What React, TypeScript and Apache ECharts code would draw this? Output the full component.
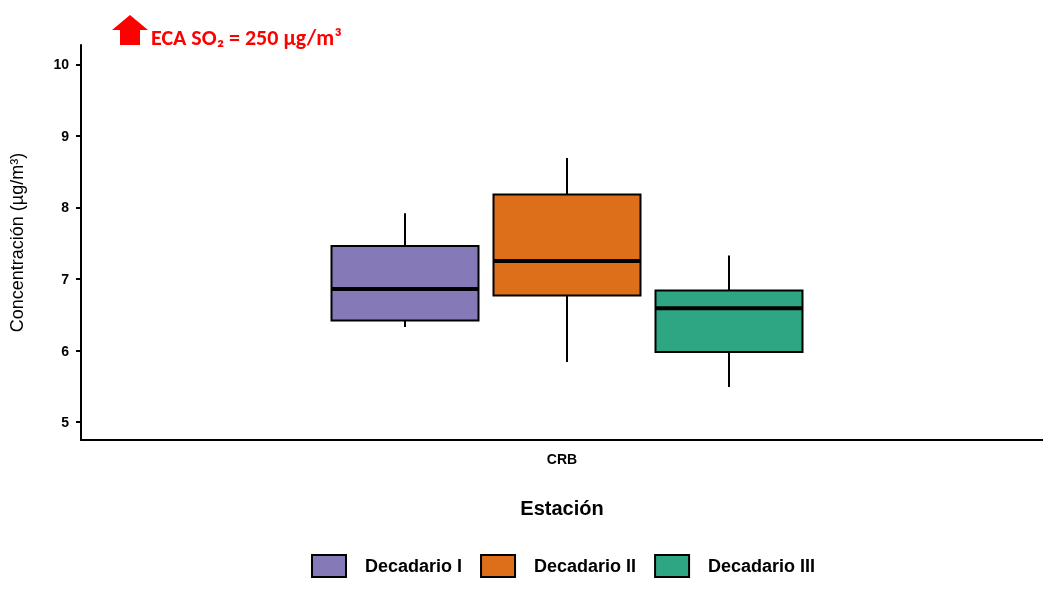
import { useEffect, useRef } from "react";
import * as echarts from "echarts";

const STATION = ["CRB"];
const SERIES_NAMES = ["Decadario I", "Decadario II", "Decadario III"];
const COLORS = ["#8579b8", "#de6f1a", "#2fa683"];
// min, Q1, median, Q3, max
const BOXES = [
  [6.33, 6.42, 6.86, 7.46, 7.92],
  [5.84, 6.77, 7.25, 8.18, 8.69],
  [5.49, 5.98, 6.59, 6.84, 7.33],
];
const Y_TICKS = [5, 6, 7, 8, 9, 10];
const SLOTS = ["a", "b", "c"];
const BOX_W = 147;

export default function App() {
  const ref = useRef<HTMLDivElement>(null);

  useEffect(() => {
    if (!ref.current) return;
    const chart = echarts.init(ref.current, null, { renderer: "svg" });
    const yBase = { type: "value", min: 4.75, max: 10.27 };
    chart.setOption({
      animation: false,
      textStyle: { fontFamily: "Liberation Sans, Arial, sans-serif" },
      grid: [
        { left: 80, right: 0, top: 45, bottom: 149 },
        { left: 324, width: 486, top: 45, bottom: 149 },
      ],
      xAxis: [
        {
          type: "category",
          gridIndex: 0,
          data: STATION,
          axisLine: { lineStyle: { color: "#000", width: 2 } },
          axisTick: { show: false },
          axisLabel: { color: "#000", fontWeight: "bold", fontSize: 14, margin: 12 },
          name: "Estación",
          nameLocation: "middle",
          nameGap: 58,
          nameTextStyle: { color: "#000", fontWeight: "bold", fontSize: 20 },
        },
        { type: "category", gridIndex: 1, data: SLOTS, show: false },
      ],
      yAxis: [
        {
          ...yBase,
          gridIndex: 0,
          splitLine: { show: false },
          axisLine: { show: true, lineStyle: { color: "#000", width: 2 } },
          axisTick: { show: true, customValues: Y_TICKS, length: 5, lineStyle: { color: "#000", width: 2 } },
          axisLabel: { customValues: Y_TICKS, color: "#000", fontWeight: "bold", fontSize: 14, margin: 12 },
          name: "Concentración (µg/m³)",
          nameLocation: "middle",
          nameGap: 55,
          nameTextStyle: { color: "#000", fontSize: 18 },
        },
        { ...yBase, gridIndex: 1, show: false },
      ],
      legend: {
        bottom: 6,
        left: 306,
        itemGap: 18,
        itemWidth: 34,
        itemHeight: 22,
        icon: "rect",
        itemStyle: { borderColor: "#000", borderWidth: 2 },
        textStyle: { color: "#000", fontWeight: "bold", fontSize: 18, padding: [0, 0, 0, 14] },
        data: SERIES_NAMES,
      },
      graphic: [
        { type: "polygon", shape: { points: [[112, 30], [130, 15], [148, 30], [140, 30], [140, 45], [120, 45], [120, 30]] }, style: { fill: "#ff0000" } },
        { type: "text", x: 151, y: 26, style: { text: "ECA SO₂ = 250 µg/m³", fill: "#ff0000", font: "bold 22px Calibri, Carlito, Liberation Sans, sans-serif" } },
      ],
      series: SERIES_NAMES.map((name, i) => ({
        type: "custom",
        name,
        xAxisIndex: 1,
        yAxisIndex: 1,
        itemStyle: { color: COLORS[i] },
        data: [[i, ...BOXES[i]]],
        encode: { x: 0, y: [1, 2, 3, 4, 5] },
        renderItem: (params: any, api: any) => {
          const x = api.value(0);
          const [cx, yMin] = api.coord([x, api.value(1)]);
          const yQ1 = api.coord([x, api.value(2)])[1];
          const yMed = api.coord([x, api.value(3)])[1];
          const yQ3 = api.coord([x, api.value(4)])[1];
          const yMax = api.coord([x, api.value(5)])[1];
          const l = cx - BOX_W / 2;
          const line = { stroke: "#000", lineWidth: 2 };
          return {
            type: "group",
            children: [
              { type: "line", shape: { x1: cx, y1: yMax, x2: cx, y2: yQ3 }, style: line },
              { type: "line", shape: { x1: cx, y1: yQ1, x2: cx, y2: yMin }, style: line },
              { type: "rect", shape: { x: l, y: yQ3, width: BOX_W, height: yQ1 - yQ3 }, style: { fill: COLORS[i], stroke: "#000", lineWidth: 2 } },
              { type: "line", shape: { x1: l, y1: yMed, x2: l + BOX_W, y2: yMed }, style: { stroke: "#000", lineWidth: 4 } },
            ],
          };
        },
      })),
    });
    return () => chart.dispose();
  }, []);

  return <div ref={ref} style={{ position: "fixed", left: 0, top: 0, width: 1043, height: 589 }} />;
}
